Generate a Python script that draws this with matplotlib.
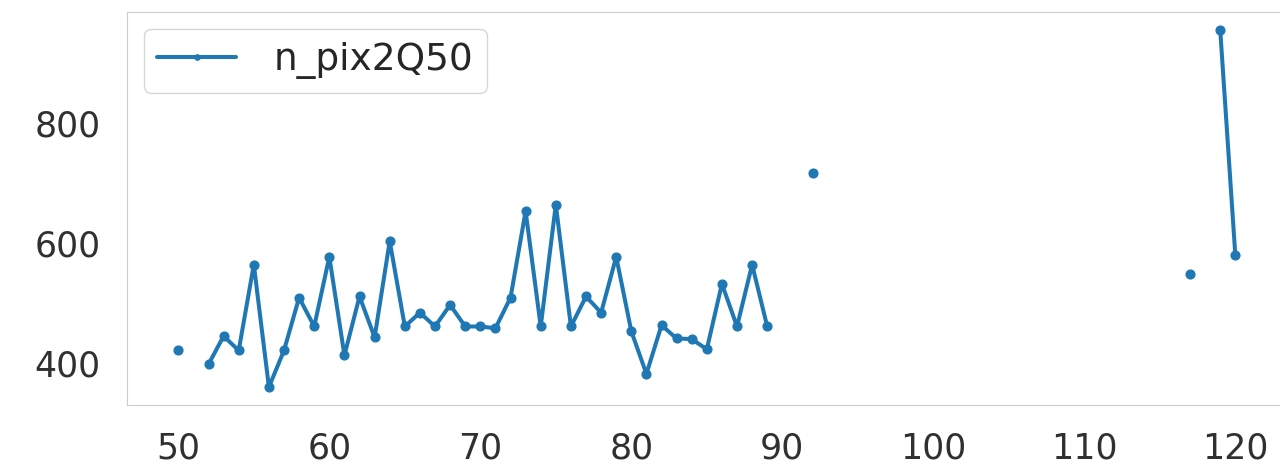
import matplotlib
matplotlib.use("Agg")
import matplotlib.pyplot as plt
import seaborn as sns
import numpy as np

sns.set_style("whitegrid")
plt.rcParams['font.family'] = ['DejaVu Sans']

# frame index and median values; frames without a value stay NaN
x = list(range(50, 121))
vals = {
    50: 421, 52: 398, 53: 445, 54: 421, 55: 564, 56: 360, 57: 421, 58: 509,
    59: 461, 60: 577, 61: 413, 62: 511, 63: 443, 64: 603, 65: 461, 66: 484,
    67: 461, 68: 497, 69: 461, 70: 461, 71: 458, 72: 509, 73: 653, 74: 461,
    75: 664, 76: 461, 77: 511, 78: 484, 79: 577, 80: 453, 81: 382, 82: 463,
    83: 441, 84: 440, 85: 423, 86: 532, 87: 461, 88: 564, 89: 461, 92: 717,
    117: 549, 119: 955, 120: 580,
}
n_pix2Q50 = [vals.get(i, np.nan) for i in x]

fig = plt.figure(figsize=(12.8, 4.66), dpi=100)
left, width = 0.0992, 0.93
ax = fig.add_axes([left, 0.131, width, 0.843])
ax.plot(x, n_pix2Q50, marker='o', color='#1f77b4', lw=2.9, ms=6.3,
        label='n_pix2Q50')
ax.grid(False)
# the picture is cut on the right, so the axes runs past the figure edge
ax.set_xlim(46.6, 46.6 + width * 1280 / 15.1)
ax.margins(y=0.05)
ax.set_xticks([50, 60, 70, 80, 90, 100, 110, 120])
ax.set_yticks([400, 600, 800])
ax.tick_params(labelsize=25, pad=19, colors='#303030', length=0)
for s in ax.spines.values():
    s.set_color('#cccccc')
ax.spines['right'].set_visible(False)
leg = ax.legend(loc='upper left', fontsize=27, handlelength=2.1,
                handletextpad=1.0, borderpad=0.36, borderaxespad=0.45,
                markerscale=0.6)
leg.get_frame().set_edgecolor('#cccccc')

fig.savefig('out.png', dpi=100)
